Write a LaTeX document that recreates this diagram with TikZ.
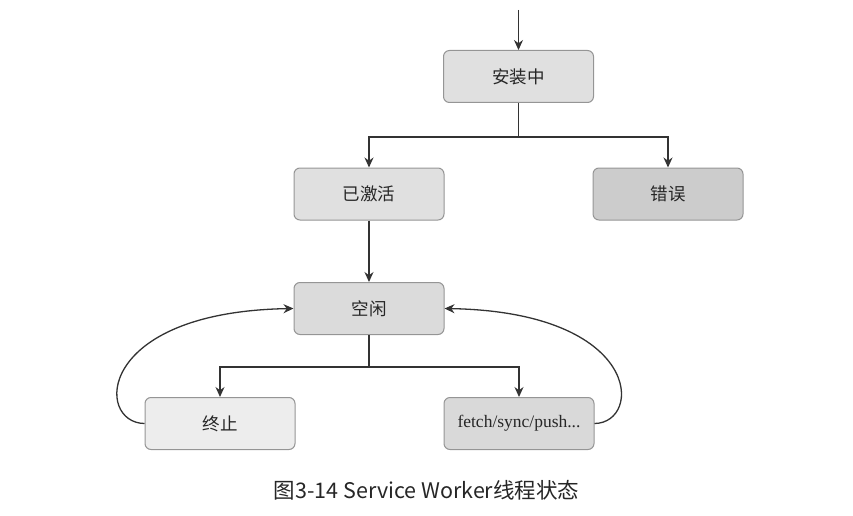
\documentclass[tikz,border=0pt]{standalone}
\usepackage{fontspec}
\setmainfont{Liberation Serif}
\newfontfamily\cjk{Noto Sans CJK SC}
\usetikzlibrary{arrows.meta}
\definecolor{lineC}{HTML}{333333}
\definecolor{borderC}{HTML}{959595}
\tikzset{
  state/.style={draw=borderC, line width=1pt, rounded corners=6pt, minimum width=150pt, minimum height=52pt, inner sep=0pt, font=\cjk\fontsize{17.5}{19}\selectfont, text=black!85},
  conn/.style={draw=lineC, line width=1.3pt, -{Stealth[length=10pt,width=9pt]}},
  plain/.style={draw=lineC, line width=1.3pt}
}
\begin{document}
\begin{tikzpicture}[x=1pt,y=-1pt]
\useasboundingbox (0,0) rectangle (853,516);
\node[state, fill=black!12] (install) at (518.5,76.5) {安装中};
\node[state, fill=black!12] (active) at (369,194) {已激活};
\node[state, fill=black!20] (error) at (668,194) {错误};
\node[state, fill=black!14] (idle) at (369,308.5) {空闲};
\node[state, fill=black!7] (term) at (220,423.5) {终止};
\node[state, fill=black!15, font=\fontsize{17.5}{19}\selectfont] (fetch) at (519,423.5) {fetch/sync/push...};
\coordinate (start) at (518.5,10);
\coordinate (split1) at (518.5,137);
\coordinate (split2) at (369,367);
\draw[conn] (start) -- (install.north);
\draw[plain] (install.south) -- (split1);
\draw[conn] (split1) -| (active.north);
\draw[conn] (split1) -| (error.north);
\draw[conn] (active.south) -- (idle.north);
\draw[plain] (idle.south) -- (split2);
\draw[conn] (split2) -| (term.north);
\draw[conn] (split2) -| (fetch.north);
\draw[conn] (term.west) .. controls (95,423) and (95,312) .. (idle.west);
\draw[conn] (fetch.east) .. controls (643,423) and (643,312) .. (idle.east);
\node[font=\cjk\fontsize{21.5}{23}\selectfont, text=black!85] (cap) at (426.5,490) {图3-14 Service Worker线程状态};
\end{tikzpicture}
\end{document}
